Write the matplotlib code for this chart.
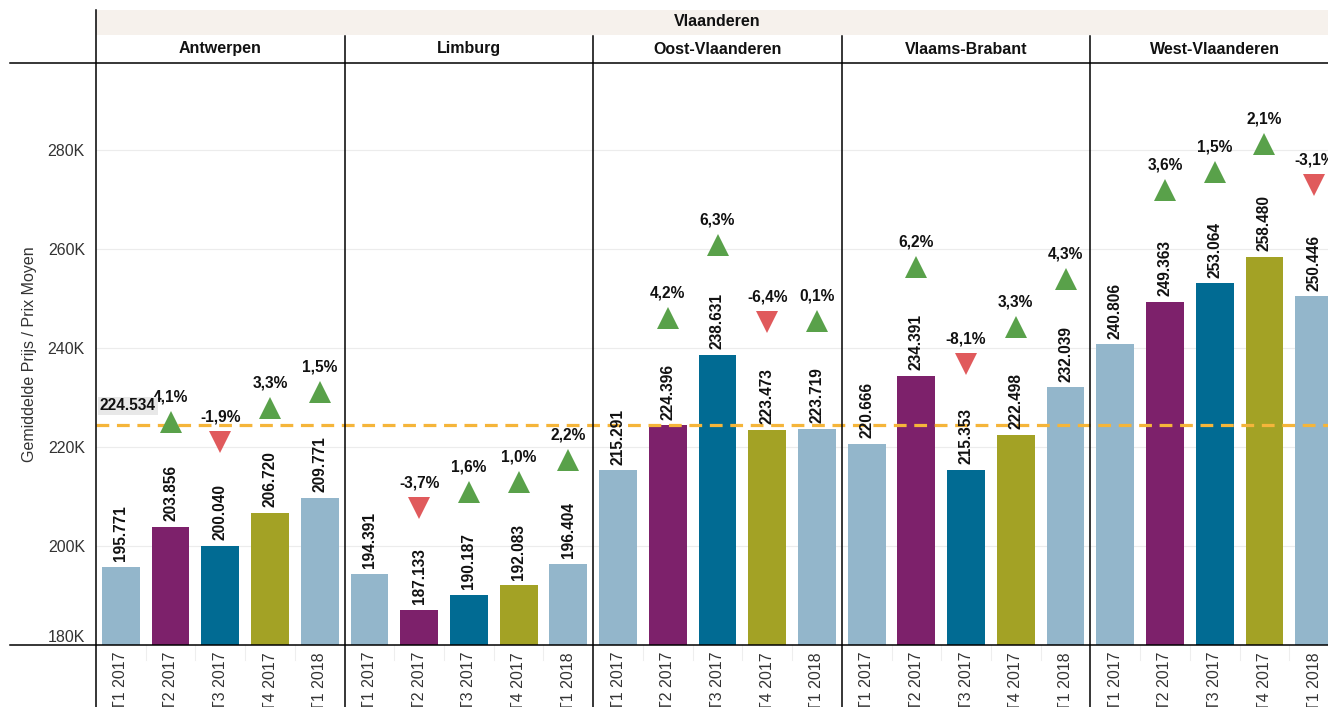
import matplotlib
matplotlib.use('Agg')
import matplotlib.pyplot as plt
from matplotlib.lines import Line2D
from matplotlib.patches import Rectangle
import numpy as np

plt.rcParams['font.family'] = ['Liberation Sans', 'DejaVu Sans']

# ---------------- data ----------------
region = 'Vlaanderen'
provinces = ['Antwerpen', 'Limburg', 'Oost-Vlaanderen', 'Vlaams-Brabant', 'West-Vlaanderen']
quarters = ['T1 2017', 'T2 2017', 'T3 2017', 'T4 2017', 'T1 2018']

antwerpen = [195771, 203856, 200040, 206720, 209771]
limburg = [194391, 187133, 190187, 192083, 196404]
oost_vlaanderen = [215291, 224396, 238631, 223473, 223719]
vlaams_brabant = [220666, 234391, 215353, 222498, 232039]
west_vlaanderen = [240806, 249363, 253064, 258480, 250446]

pct_antwerpen = [None, 4.1, -1.9, 3.3, 1.5]
pct_limburg = [None, -3.7, 1.6, 1.0, 2.2]
pct_oost_vlaanderen = [None, 4.2, 6.3, -6.4, 0.1]
pct_vlaams_brabant = [None, 6.2, -8.1, 3.3, 4.3]
pct_west_vlaanderen = [None, 3.6, 1.5, 2.1, -3.1]

average = 224534
ytick_values = [180000, 200000, 220000, 240000, 260000, 280000]
y_title = 'Gemiddelde Prijs / Prix Moyen'

values_by_prov = [antwerpen, limburg, oost_vlaanderen, vlaams_brabant, west_vlaanderen]
pct_by_prov = [pct_antwerpen, pct_limburg, pct_oost_vlaanderen, pct_vlaams_brabant, pct_west_vlaanderen]

# ---------------- style ----------------
quarter_colors = ['#93b6cb', '#7d216b', '#016b93', '#a3a225', '#93b6cb']
up_color = '#59a14a'
down_color = '#e05a5c'
avg_color = '#f5b53a'
FS = 11.5
FSL = 11.2

W, H = 1328, 707
fig = plt.figure(figsize=(W / 100, H / 100), dpi=100)

def fx(x):
    return x / W

def fy(y):
    return 1 - y / H

ax_left, ax_right, ax_top, ax_bottom = 96, 1339, 63, 645
ax = fig.add_axes([fx(ax_left), fy(ax_bottom), (ax_right - ax_left) / W, (ax_bottom - ax_top) / H])

n = len(quarters)
all_vals = np.concatenate([np.array(v, dtype=float) for v in values_by_prov])
all_pcts = sum(pct_by_prov, [])
xs = np.arange(len(all_vals))
colors = quarter_colors * len(provinces)

ax.set_xlim(-0.5, len(all_vals) - 0.5)
ax.set_ylim(180000, 297600)

ax.bar(xs, all_vals, width=0.76, color=colors, zorder=2)

for x, v in zip(xs, all_vals):
    ax.annotate(f"{int(v):,}".replace(',', '.'), (x, v), xytext=(0, 4), textcoords='offset points',
                rotation=90, ha='center', va='bottom', fontsize=FSL, fontweight='bold',
                color='#111111', zorder=5)

for x, v, p in zip(xs, all_vals, all_pcts):
    if p is None:
        continue
    my = v * 1.03 + 15000
    up = p >= 0
    ax.plot([x], [my], marker='^' if up else 'v', ms=16, color=up_color if up else down_color,
            mew=0, linestyle='none', zorder=4)
    ax.annotate(f"{p:.1f}".replace('.', ',') + '%', (x, my), xytext=(0, 18), textcoords='offset points',
                ha='center', va='center', fontsize=FSL, fontweight='bold', color='#111111', zorder=5)

# average line
ax.axhline(average, color=avg_color, lw=2.3, ls=(0, (4, 2.4)), zorder=3)
ax.annotate(f"{average:,}".replace(',', '.'), (-0.42, average), xytext=(0, 8), textcoords='offset points',
            ha='left', va='bottom', fontsize=FSL, fontweight='bold', color='#111111', zorder=6,
            bbox=dict(facecolor='#e8e8e8', edgecolor='none', pad=1.2))

# axes styling
for s in ax.spines.values():
    s.set_visible(False)
ax.set_yticks(ytick_values)
ax.set_yticklabels([f"{v // 1000}K" for v in ytick_values], fontsize=FS, color='#333333')
ax.get_yticklabels()[0].set_verticalalignment('bottom')
ax.tick_params(axis='y', length=0, pad=8)
ax.yaxis.grid(True, color='#ececec', lw=0.8)
ax.set_axisbelow(True)
ax.set_xticks(xs)
ax.set_xticklabels(quarters * len(provinces), rotation=90, fontsize=FS, color='#333333')
ax.tick_params(axis='x', length=0, pad=5)
ax.set_ylabel(y_title, fontsize=FS, color='#333333')
ax.yaxis.set_label_coords((37 - ax_left) / (ax_right - ax_left), 0.5)

# faint separators between quarter labels
ax_h = ax_bottom - ax_top
ymin_f = (ax_bottom - H) / ax_h
for k in range(len(all_vals)):
    if k % n == 0:
        continue
    ax.axvline(k - 0.5, ymin=(ax_bottom - 660) / ax_h, ymax=0, color='#eeeeee', lw=0.8,
               clip_on=False, zorder=1)

# panel separators
for k in range(len(provinces) + 1):
    xpos = k * n - 0.5
    top_px = 10 if k == 0 else 36
    ax.axvline(xpos, ymin=ymin_f, ymax=(ax_bottom - top_px) / ax_h, color='black', lw=1.1,
               clip_on=False, zorder=7)

# horizontal frame lines
for ypx in (ax_top, ax_bottom):
    fig.add_artist(Line2D([fx(10), 1], [fy(ypx), fy(ypx)], color='black', lw=1.1, zorder=8))

# header band
fig.add_artist(Rectangle((fx(ax_left), fy(35)), 1 - fx(ax_left), (35 - 10) / H,
                         facecolor='#f6f1ec', edgecolor='none', zorder=0))
ax.text(0.5, (ax_bottom - 22) / ax_h, region, transform=ax.transAxes, ha='center', va='center',
        fontsize=FS, fontweight='bold', color='#111111')
for k, prov in enumerate(provinces):
    ax.text(k * n + (n - 1) / 2, (ax_bottom - 49) / ax_h, prov,
            transform=ax.get_xaxis_transform(), ha='center', va='center',
            fontsize=FS, fontweight='bold', color='#111111')

fig.savefig('out.png', dpi=100)
